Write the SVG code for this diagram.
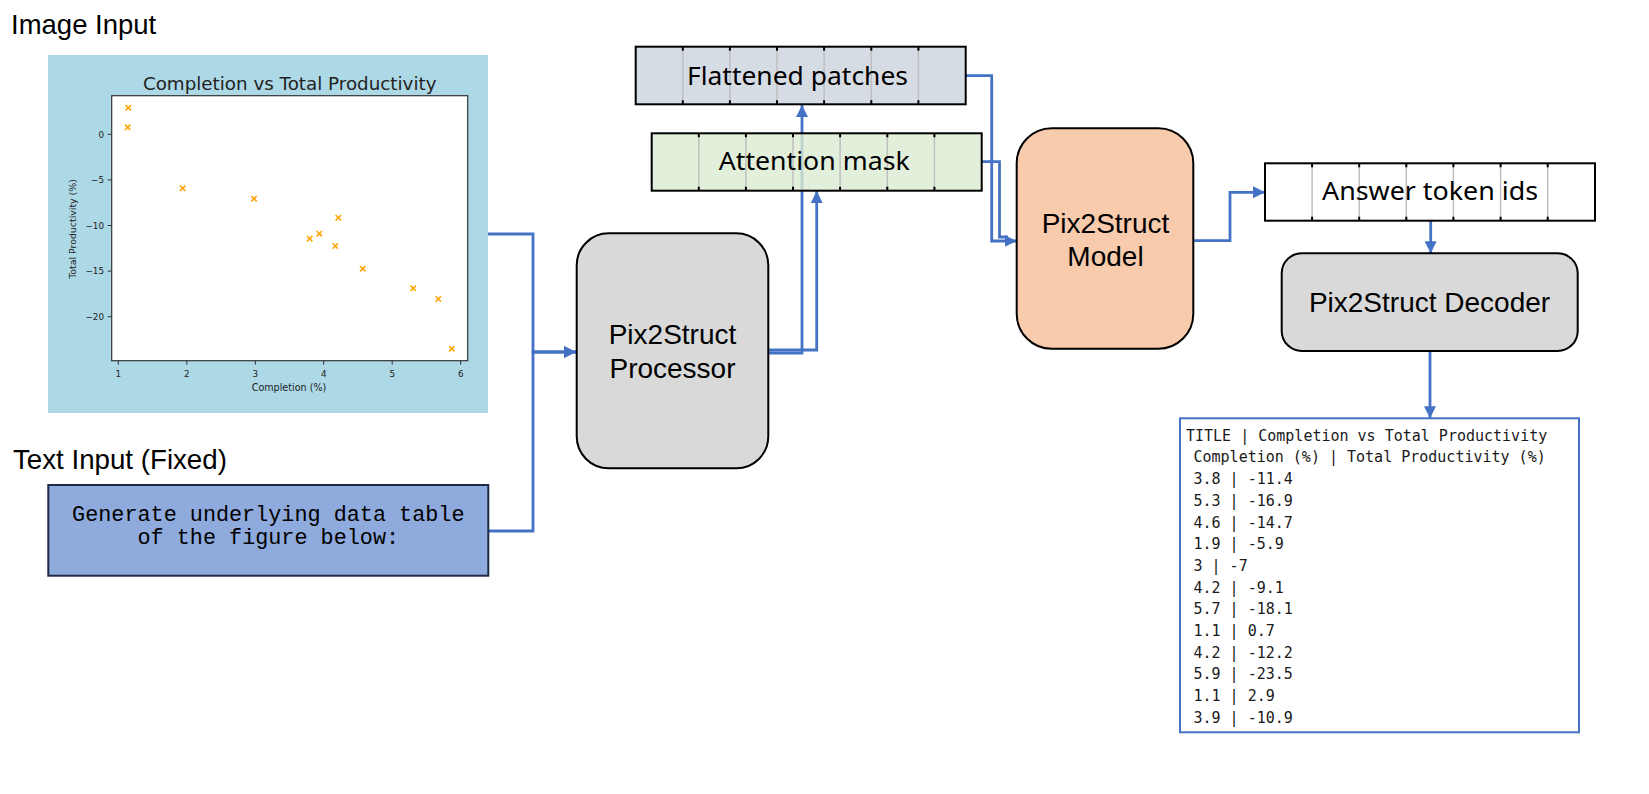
<svg xmlns="http://www.w3.org/2000/svg" width="1649" height="794" viewBox="0 0 1649 794">
<style>
.lbl{font-family:"Liberation Sans",Arial,sans-serif;fill:#000}
.box{stroke:#000;stroke-width:2}
.cell{stroke:#BFBFBF;stroke-width:1.5}
.tick{stroke:#000;stroke-width:2}
.seq{font-family:"Noto Sans","Open Sans",sans-serif;font-size:26px;fill:#000;text-anchor:middle}
.big{font-family:"Liberation Sans",Arial,sans-serif;font-size:28px;fill:#000;text-anchor:middle}
.conn{fill:none;stroke:#4472C4;stroke-width:2.8}
.mpl{font-family:"DejaVu Sans",sans-serif;fill:#222}
.mk{stroke:#FFA500;stroke-width:1.6}
.out{font-family:"DejaVu Sans Mono","Liberation Mono",monospace;font-size:15px;fill:#1a1a1a}
</style>
<defs>
<marker id="arr" markerUnits="userSpaceOnUse" markerWidth="12" markerHeight="12" refX="12" refY="6" orient="auto">
<path d="M0,0 L12,6 L0,12 z" fill="#4472C4"/>
</marker>
</defs>
<rect width="1649" height="794" fill="#fff"/>

<g id="connectors">
<path class="conn" d="M488,234 H533 V352 H576" marker-end="url(#arr)"/>
<path class="conn" d="M488,531 H533 V352 H576" marker-end="url(#arr)"/>
<path class="conn" d="M768,353 H802 V105" marker-end="url(#arr)"/>
<path class="conn" d="M768,350 H816.7 V191" marker-end="url(#arr)"/>
<path class="conn" d="M966,75.7 H991.7 V241 H1016.7" marker-end="url(#arr)"/>
<path class="conn" d="M982,161.7 H999.5 V237 H1008"/>
<path class="conn" d="M1193,240.7 H1230 V192.3 H1265" marker-end="url(#arr)"/>
<path class="conn" d="M1430.7,220.7 V253.3" marker-end="url(#arr)"/>
<path class="conn" d="M1430,351 V418.3" marker-end="url(#arr)"/>
</g>

<g id="image-input-label">
<text class="lbl" x="11" y="34" font-size="27.5">Image Input</text>
</g>

<g id="image-input">
<rect x="48" y="55" width="440" height="358" fill="#ADD8E6"/>
<rect x="111.7" y="95.7" width="356" height="265" fill="#fff" stroke="#333" stroke-width="1.2"/>
<text class="mpl" x="289.7" y="90" font-size="18.3" text-anchor="middle" fill="#000">Completion vs Total Productivity</text>
<g stroke="#333" stroke-width="1">
<line x1="107.7" y1="134.3" x2="111.7" y2="134.3"/>
<line x1="107.7" y1="179.9" x2="111.7" y2="179.9"/>
<line x1="107.7" y1="225.5" x2="111.7" y2="225.5"/>
<line x1="107.7" y1="271.1" x2="111.7" y2="271.1"/>
<line x1="107.7" y1="316.7" x2="111.7" y2="316.7"/>
<line x1="118.3" y1="360.7" x2="118.3" y2="364.7"/>
<line x1="186.8" y1="360.7" x2="186.8" y2="364.7"/>
<line x1="255.3" y1="360.7" x2="255.3" y2="364.7"/>
<line x1="323.7" y1="360.7" x2="323.7" y2="364.7"/>
<line x1="392.2" y1="360.7" x2="392.2" y2="364.7"/>
<line x1="460.7" y1="360.7" x2="460.7" y2="364.7"/>
</g>
<g class="mpl" font-size="8.8" text-anchor="end">
<text x="104" y="137.5">0</text>
<text x="104" y="183.1">−5</text>
<text x="104" y="228.7">−10</text>
<text x="104" y="274.3">−15</text>
<text x="104" y="319.9">−20</text>
</g>
<g class="mpl" font-size="8.8" text-anchor="middle">
<text x="118.3" y="376.5">1</text>
<text x="186.8" y="376.5">2</text>
<text x="255.3" y="376.5">3</text>
<text x="323.7" y="376.5">4</text>
<text x="392.2" y="376.5">5</text>
<text x="460.7" y="376.5">6</text>
</g>
<text class="mpl" x="289" y="390.7" font-size="9.6" text-anchor="middle">Completion (%)</text>
<text class="mpl" x="0" y="0" font-size="9.4" text-anchor="middle" transform="translate(75.5,229) rotate(-90)">Total Productivity (%)</text>
<g class="mk">
<path d="M125.6,105 l5.4,5.4 M131,105 l-5.4,5.4"/>
<path d="M125,124.6 l5.4,5.4 M130.4,124.6 l-5.4,5.4"/>
<path d="M180,185.6 l5.4,5.4 M185.4,185.6 l-5.4,5.4"/>
<path d="M251.3,196 l5.4,5.4 M256.7,196 l-5.4,5.4"/>
<path d="M335.6,215 l5.4,5.4 M341,215 l-5.4,5.4"/>
<path d="M316.6,231 l5.4,5.4 M322,231 l-5.4,5.4"/>
<path d="M307,236 l5.4,5.4 M312.4,236 l-5.4,5.4"/>
<path d="M332.6,243.3 l5.4,5.4 M338,243.3 l-5.4,5.4"/>
<path d="M360,266 l5.4,5.4 M365.4,266 l-5.4,5.4"/>
<path d="M410.6,285.6 l5.4,5.4 M416,285.6 l-5.4,5.4"/>
<path d="M435.6,296.3 l5.4,5.4 M441,296.3 l-5.4,5.4"/>
<path d="M449,346 l5.4,5.4 M454.4,346 l-5.4,5.4"/>
</g>
</g>

<g id="text-input-label">
<text class="lbl" x="13" y="469" font-size="27.7">Text Input (Fixed)</text>
</g>

<g id="text-input">
<rect x="48.3" y="485" width="440" height="90.7" fill="#8FAADC" stroke="#1F2A44" stroke-width="2"/>
<text x="268.3" y="521" font-family="Liberation Mono,monospace" font-size="21.8" text-anchor="middle" fill="#000">Generate underlying data table</text>
<text x="268.3" y="544" font-family="Liberation Mono,monospace" font-size="21.8" text-anchor="middle" fill="#000">of the figure below:</text>
</g>

<g id="processor">
<rect class="box" x="576.7" y="233.3" width="191.6" height="235" rx="32" fill="#D9D9D9"/>
<text class="big" x="672.5" y="344">Pix2Struct</text>
<text class="big" x="672.5" y="377.7">Processor</text>
</g>

<g id="flattened-patches">
<rect x="635.7" y="46.7" width="330" height="57.6" fill="#D6DCE4"/>
<g class="cell">
<line x1="682.8" y1="46.7" x2="682.8" y2="104.3"/><line x1="729.9" y1="46.7" x2="729.9" y2="104.3"/><line x1="777" y1="46.7" x2="777" y2="104.3"/><line x1="824.1" y1="46.7" x2="824.1" y2="104.3"/><line x1="871.3" y1="46.7" x2="871.3" y2="104.3"/><line x1="918.4" y1="46.7" x2="918.4" y2="104.3"/>
</g>
<g class="tick">
<path d="M682.8,46.7v4M729.9,46.7v4M777,46.7v4M824.1,46.7v4M871.3,46.7v4M918.4,46.7v4M682.8,104.3v-4M729.9,104.3v-4M777,104.3v-4M824.1,104.3v-4M871.3,104.3v-4M918.4,104.3v-4"/>
</g>
<rect class="box" x="635.7" y="46.7" width="330" height="57.6" fill="none"/>
<text class="seq" x="797.5" y="85" textLength="221" lengthAdjust="spacingAndGlyphs">Flattened patches</text>
</g>

<g id="attention-mask">
<rect x="651.7" y="133.3" width="330" height="57.4" fill="#DBEBD1" fill-opacity="0.8"/>
<g class="cell">
<line x1="698.8" y1="133.3" x2="698.8" y2="190.7"/><line x1="745.9" y1="133.3" x2="745.9" y2="190.7"/><line x1="793" y1="133.3" x2="793" y2="190.7"/><line x1="840.1" y1="133.3" x2="840.1" y2="190.7"/><line x1="887.3" y1="133.3" x2="887.3" y2="190.7"/><line x1="934.4" y1="133.3" x2="934.4" y2="190.7"/>
</g>
<g class="tick">
<path d="M698.8,133.3v4M745.9,133.3v4M793,133.3v4M840.1,133.3v4M887.3,133.3v4M934.4,133.3v4M698.8,190.7v-4M745.9,190.7v-4M793,190.7v-4M840.1,190.7v-4M887.3,190.7v-4M934.4,190.7v-4"/>
</g>
<rect class="box" x="651.7" y="133.3" width="330" height="57.4" fill="none"/>
<text class="seq" x="814.2" y="170" textLength="191" lengthAdjust="spacingAndGlyphs">Attention mask</text>
</g>

<g id="model">
<rect class="box" x="1016.7" y="128.3" width="176.6" height="220.5" rx="35" fill="#F8CBAD"/>
<text class="big" x="1105.5" y="232.7">Pix2Struct</text>
<text class="big" x="1105.5" y="266">Model</text>
</g>

<g id="answer-token-ids">
<rect x="1265" y="163.3" width="330" height="57.4" fill="#fff"/>
<g class="cell" stroke="#D0D0D0">
<line x1="1312.1" y1="163.3" x2="1312.1" y2="220.7"/><line x1="1359.2" y1="163.3" x2="1359.2" y2="220.7"/><line x1="1406.3" y1="163.3" x2="1406.3" y2="220.7"/><line x1="1453.4" y1="163.3" x2="1453.4" y2="220.7"/><line x1="1500.6" y1="163.3" x2="1500.6" y2="220.7"/><line x1="1547.7" y1="163.3" x2="1547.7" y2="220.7"/>
</g>
<g class="tick">
<path d="M1312.1,163.3v4M1359.2,163.3v4M1406.3,163.3v4M1453.4,163.3v4M1500.6,163.3v4M1547.7,163.3v4M1312.1,220.7v-4M1359.2,220.7v-4M1406.3,220.7v-4M1453.4,220.7v-4M1500.6,220.7v-4M1547.7,220.7v-4"/>
</g>
<rect class="box" x="1265" y="163.3" width="330" height="57.4" fill="none"/>
<text class="seq" x="1430" y="200" textLength="216" lengthAdjust="spacingAndGlyphs">Answer token ids</text>
</g>

<g id="decoder">
<rect class="box" x="1281.7" y="253.3" width="296" height="97.6" rx="20" fill="#D9D9D9"/>
<text class="big" x="1429.5" y="311.7">Pix2Struct Decoder</text>
</g>

<g id="output-table">
<rect x="1180" y="418.3" width="399" height="314" fill="#fff" stroke="#4472C4" stroke-width="2"/>
<text class="out" x="1186" y="440.7">TITLE | Completion vs Total Productivity</text>
<text class="out" x="1193.5" y="462.4">Completion (%) | Total Productivity (%)</text>
<text class="out" x="1193.5" y="484.1">3.8 | -11.4</text>
<text class="out" x="1193.5" y="505.8">5.3 | -16.9</text>
<text class="out" x="1193.5" y="527.5">4.6 | -14.7</text>
<text class="out" x="1193.5" y="549.2">1.9 | -5.9</text>
<text class="out" x="1193.5" y="570.9">3 | -7</text>
<text class="out" x="1193.5" y="592.6">4.2 | -9.1</text>
<text class="out" x="1193.5" y="614.3">5.7 | -18.1</text>
<text class="out" x="1193.5" y="636">1.1 | 0.7</text>
<text class="out" x="1193.5" y="657.7">4.2 | -12.2</text>
<text class="out" x="1193.5" y="679.4">5.9 | -23.5</text>
<text class="out" x="1193.5" y="701.1">1.1 | 2.9</text>
<text class="out" x="1193.5" y="722.8">3.9 | -10.9</text>
</g>
</svg>
